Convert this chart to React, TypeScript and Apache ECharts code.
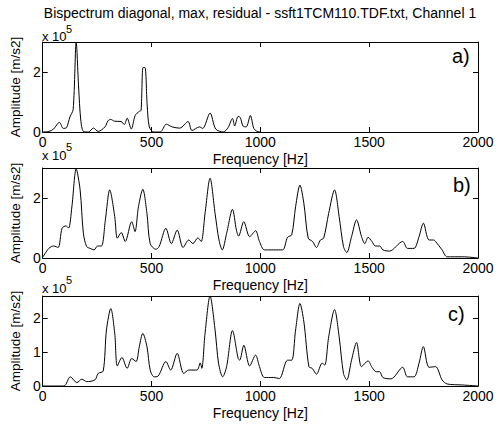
import React, { useEffect, useRef } from "react";
import * as echarts from "echarts";

const TITLE = "Bispectrum diagonal, max, residual - ssft1TCM110.TDF.txt, Channel 1";
const X_TICKS = [0, 500, 1000, 1500, 2000];
const PANEL_LABELS = ["a)", "b)", "c)"];
const Y_MAX = [3, 3, 2.65];
const Y_TICKS = [[0, 2], [0, 2], [0, 1, 2]];

// values in units of 1e5 m/s2
const seriesA: [number, number][] = [
  [0, 0], [29, 0.02], [50, 0.1], [77, 0.32], [95, 0.12], [110, 0.15], [125, 0.5], [140, 0.75],
  [154, 3.0], [165, 1.5], [175, 0.4], [187, 0.02], [210, 0.0], [233, 0.13], [255, 0.02],
  [286, 0.17], [300, 0.37], [312, 0.42], [330, 0.36], [360, 0.35], [375, 0.25], [388, 0.46],
  [407, 0.1], [425, 0.55], [444, 0.69], [452, 0.72], [461, 2.15], [470, 2.15], [480, 0.9],
  [490, 0.17], [510, 0.0], [540, 0.0], [568, 0.26], [595, 0.17], [630, 0.13], [668, 0.35],
  [686, 0.05], [720, 0.17], [735, 0.12], [769, 0.63], [795, 0.1], [830, 0.0], [852, 0.15],
  [872, 0.45], [882, 0.2], [898, 0.52], [908, 0.48], [920, 0.2], [935, 0.17], [954, 0.55],
  [970, 0.12], [985, 0.02], [1000, 0.0]
];

const seriesB: [number, number][] = [
  [0, 0.02], [28, 0.32], [51, 0.4], [71, 0.35], [89, 0.99], [107, 1.07], [119, 1.0], [134, 1.7],
  [154, 2.97], [172, 2.27], [187, 0.82], [202, 0.38], [218, 0.32], [236, 0.27], [252, 0.4],
  [270, 0.4], [288, 1.27], [308, 2.27], [331, 1.38], [343, 0.66], [361, 0.85], [379, 0.55],
  [409, 1.21], [424, 0.88], [440, 1.71], [460, 2.29], [479, 1.49], [494, 0.48], [520, 0.29],
  [535, 0.38], [566, 0.99], [591, 0.48], [618, 0.93], [645, 0.35], [671, 0.6], [690, 0.48],
  [713, 0.67], [728, 0.55], [746, 1.49], [769, 2.66], [792, 1.49], [810, 0.6], [825, 0.27],
  [845, 0.82], [872, 1.62], [890, 0.93], [900, 0.73], [924, 1.21], [951, 0.71], [978, 0.91],
  [996, 0.55], [1019, 0.27], [1060, 0.27], [1102, 0.27], [1125, 0.69], [1144, 0.77],
  [1162, 1.71], [1182, 2.43], [1200, 1.82], [1220, 0.66], [1240, 0.55], [1258, 0.35],
  [1276, 0.6], [1291, 0.66], [1314, 1.49], [1341, 2.27], [1362, 1.38], [1382, 0.38],
  [1397, 0.18], [1419, 0.71], [1442, 1.27], [1465, 0.71], [1480, 0.48], [1495, 0.69],
  [1513, 0.55], [1528, 0.4], [1548, 0.4], [1563, 0.27], [1593, 0.23], [1654, 0.55],
  [1676, 0.32], [1706, 0.32], [1729, 0.71], [1749, 1.16], [1775, 0.6], [1797, 0.6],
  [1805, 0.55], [1835, 0.27], [1858, 0.04], [1930, 0.04], [2000, 0.0]
];

const seriesC: [number, number][] = [
  [0, 0], [97, 0], [127, 0.27], [157, 0.1], [180, 0.2], [202, 0.13], [240, 0.18], [255, 0.37],
  [278, 0.44], [293, 1.65], [313, 2.28], [331, 1.55], [343, 0.59], [364, 0.84], [388, 0.52],
  [409, 0.81], [429, 0.72], [444, 1.16], [460, 1.55], [479, 1.16], [494, 0.47], [512, 0.27],
  [530, 0.29], [566, 0.72], [588, 0.47], [618, 0.96], [648, 0.37], [671, 0.47], [709, 0.47],
  [724, 0.68], [731, 0.52], [746, 1.55], [769, 2.65], [792, 1.65], [808, 0.67], [827, 0.27],
  [845, 0.57], [872, 1.63], [898, 0.81], [905, 0.76], [924, 1.2], [951, 0.59], [978, 0.91],
  [996, 0.57], [1019, 0.25], [1060, 0.25], [1087, 0.22], [1125, 0.76], [1144, 0.76],
  [1162, 1.65], [1182, 2.43], [1200, 1.89], [1223, 0.57], [1238, 0.52], [1258, 0.35],
  [1284, 0.67], [1296, 0.62], [1314, 1.45], [1341, 2.25], [1362, 1.45], [1382, 0.37],
  [1397, 0.18], [1419, 0.76], [1442, 1.28], [1465, 0.57], [1495, 0.74], [1513, 0.55],
  [1533, 0.42], [1548, 0.42], [1563, 0.25], [1600, 0.21], [1654, 0.55], [1676, 0.27],
  [1706, 0.27], [1729, 0.67], [1749, 1.16], [1775, 0.55], [1805, 0.57], [1835, 0.18],
  [1858, 0.06], [1930, 0.03], [2000, 0.0]
];

const ALL_SERIES = [seriesA, seriesB, seriesC];

const FONT = "Liberation Sans, Arial, sans-serif";

export default function App() {
  const ref = useRef<HTMLDivElement>(null);
  useEffect(() => {
    if (!ref.current) return;
    const chart = echarts.init(ref.current, null, { renderer: "svg" });
    const tops = [42, 168, 296];
    const height = 90;
    const grids = tops.map((t) => ({ left: 37, right: 23, top: t, height }));
    const xAxes: any[] = [];
    const yAxes: any[] = [];
    const series: any[] = [];
    const lineBlack = { show: true, lineStyle: { color: "#000", width: 1 } };
    tops.forEach((_, i) => {
      const xBase = {
        gridIndex: i, type: "value", min: 0, max: 2000, interval: 500,
        axisLine: { ...lineBlack, onZero: false },
        axisTick: { show: true, inside: true, length: 5, lineStyle: { color: "#000" }, customValues: X_TICKS },
        splitLine: { show: false },
      };
      xAxes.push({
        ...xBase, position: "bottom",
        axisLabel: {
          color: "#000", fontSize: 14, fontFamily: FONT, margin: 3, lineHeight: 14,
          customValues: X_TICKS, formatter: (v: number) => String(v),
        },
        name: "Frequency [Hz]", nameLocation: "middle", nameGap: 20,
        nameTextStyle: { color: "#000", fontSize: 14, fontFamily: FONT, lineHeight: 14, verticalAlign: "top" },
      });
      xAxes.push({ ...xBase, position: "top", axisLabel: { show: false } });
      const yBase = {
        gridIndex: i, type: "value", min: 0, max: Y_MAX[i],
        axisLine: { ...lineBlack, onZero: false },
        axisTick: { show: true, inside: true, length: 5, lineStyle: { color: "#000" }, customValues: Y_TICKS[i] },
        splitLine: { show: false },
      };
      yAxes.push({
        ...yBase, position: "left",
        axisLabel: {
          color: "#000", fontSize: 14, fontFamily: FONT, margin: 2,
          customValues: Y_TICKS[i], formatter: (v: number) => String(v),
        },
        name: "Amplitude [m/s2]", nameLocation: "middle", nameGap: 13,
        nameTextStyle: { color: "#000", fontSize: 13.5, fontFamily: FONT },
      });
      yAxes.push({ ...yBase, position: "right", axisLabel: { show: false } });
      series.push({
        type: "line", xAxisIndex: 2 * i, yAxisIndex: 2 * i, data: ALL_SERIES[i],
        showSymbol: false, smooth: 0.3, lineStyle: { color: "#000", width: 1 }, silent: true,
      });
    });
    const expY = [[36, 28.5], [155, 147], [288, 280]];
    const graphic: any[] = [
      {
        type: "text", x: 260, y: 13,
        style: { text: TITLE, fill: "#000", fontSize: 14, fontFamily: FONT, align: "center", verticalAlign: "middle", lineHeight: 14 },
      },
    ];
    expY.forEach(([y1, y2]) => {
      graphic.push({
        type: "text", x: 42, y: y1,
        style: { text: "x 10", fill: "#000", fontSize: 13, fontFamily: FONT, verticalAlign: "middle", lineHeight: 11 },
      });
      graphic.push({
        type: "text", x: 66, y: y2,
        style: { text: "5", fill: "#000", fontSize: 11, fontFamily: FONT, verticalAlign: "middle", lineHeight: 8 },
      });
    });
    const labPos = [[452, 56], [453, 185], [448, 314]];
    labPos.forEach(([x, y], i) => {
      graphic.push({
        type: "text", x, y,
        style: { text: PANEL_LABELS[i], fill: "#000", fontSize: 20, fontFamily: FONT, verticalAlign: "middle" },
      });
    });
    chart.setOption({
      animation: false,
      backgroundColor: "#fff",
      grid: grids,
      xAxis: xAxes,
      yAxis: yAxes,
      series,
      graphic,
    });
    return () => chart.dispose();
  }, []);
  return <div ref={ref} style={{ position: "fixed", left: 0, top: 0, width: 501, height: 424 }} />;
}
